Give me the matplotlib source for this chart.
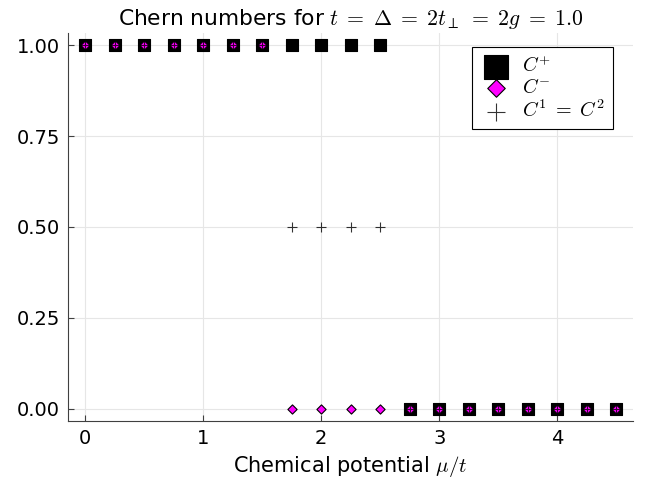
import matplotlib
matplotlib.use("Agg")
import matplotlib.pyplot as plt
import numpy as np

plt.rcParams['mathtext.fontset'] = 'cm'
plt.rcParams['font.family'] = ['DejaVu Sans']

# chemical potential grid and Chern numbers
mu = [0.0, 0.25, 0.5, 0.75, 1.0, 1.25, 1.5, 1.75, 2.0, 2.25, 2.5,
      2.75, 3.0, 3.25, 3.5, 3.75, 4.0, 4.25, 4.5]
c_plus = [1, 1, 1, 1, 1, 1, 1, 1, 1, 1, 1,
          0, 0, 0, 0, 0, 0, 0, 0]
c_minus = [1, 1, 1, 1, 1, 1, 1, 0, 0, 0, 0,
           0, 0, 0, 0, 0, 0, 0, 0]
c_12 = [1, 1, 1, 1, 1, 1, 1, 0.5, 0.5, 0.5, 0.5,
        0, 0, 0, 0, 0, 0, 0, 0]

fig = plt.figure(figsize=(6.57, 4.82), dpi=100)
ax = fig.add_axes([68 / 657, 1 - 421 / 482, (633 - 68) / 657, (421 - 33) / 482])

ax.scatter(mu, c_plus, marker='s', s=85, c='black', edgecolors='black',
           linewidths=0.8, label=r'$C^{+}$', zorder=3)
ax.scatter(mu, c_minus, marker='D', s=22, c='magenta', edgecolors='black',
           linewidths=0.8, label=r'$C^{-}$', zorder=4)
ax.scatter(mu, c_12, marker='+', s=50, c='black', linewidths=0.8,
           alpha=0.8, label=r'$C^1\;=\;C^2$', zorder=5)

ax.set_xlim(-0.144, 4.64)
ax.set_ylim(-0.033, 1.033)
ax.set_xticks([0, 1, 2, 3, 4])
ax.set_yticks([0.0, 0.25, 0.5, 0.75, 1.0])
ax.set_yticklabels(['0.00', '0.25', '0.50', '0.75', '1.00'])
ax.grid(True, color='#e6e6e6', linewidth=0.8)
ax.set_axisbelow(True)
for side in ['top', 'right']:
    ax.spines[side].set_visible(False)
for side in ['left', 'bottom']:
    ax.spines[side].set_color('#404040')
ax.tick_params(direction='in', length=4, labelsize=14, color='#404040', pad=6)

ax.set_xlabel(r'Chemical potential $\mu/t$', fontsize=15, labelpad=4)
ax.set_title(r'Chern numbers for $t\;=\;\Delta\;=\;2t_\perp\;=\;2g\;=\;1.0$',
             fontsize=15.7, pad=6)

leg = ax.legend(loc='upper right', bbox_to_anchor=(0.965, 0.964), borderaxespad=0,
                fontsize=14.5, frameon=True, fancybox=False, edgecolor='black',
                framealpha=1, handletextpad=0.5, labelspacing=0.12, borderpad=0.4,
                handlelength=1.6, markerscale=1.9)
leg.get_frame().set_linewidth(0.8)

fig.savefig('out.png', dpi=100)
